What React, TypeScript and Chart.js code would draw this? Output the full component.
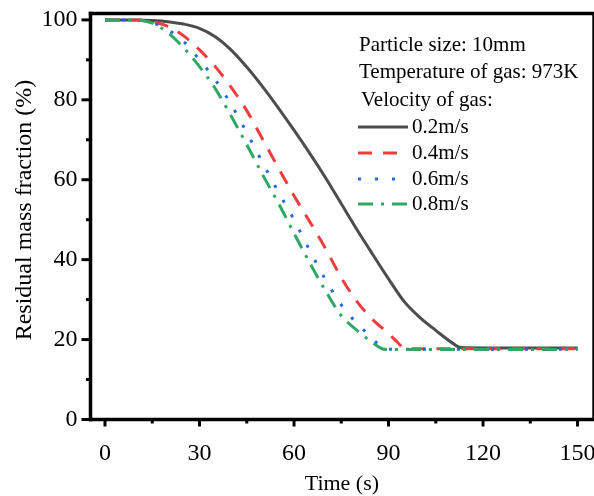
import React, { useEffect, useRef } from "react";
import { Chart, registerables } from "chart.js";

Chart.register(...registerables);

// ---- data ----
const xTicks = [0, 30, 60, 90, 120, 150];
const yTicks = [0, 20, 40, 60, 80, 100];
const xMinorTicks = [15, 45, 75, 105, 135];
const yMinorTicks = [10, 30, 50, 70, 90];

const xTitle = "Time (s)";
const yTitle = "Residual mass fraction (%)";
const infoLines = ["Particle size: 10mm", "Temperature of gas: 973K", "Velocity of gas:"];
const seriesLabels = ["0.2m/s", "0.4m/s", "0.6m/s", "0.8m/s"];

const time02 = [0, 5, 10, 15, 20, 25, 30, 35, 40, 45, 50, 55, 60, 65, 70, 75, 80, 85, 90, 95, 100, 105, 110, 113, 120, 130, 140, 150];
const mass02 = [100, 100, 100, 99.85, 99.55, 98.95, 97.9, 95.8, 92.5, 88.2, 83.3, 78, 72.4, 66.6, 60.5, 54, 47.5, 41.3, 35.2, 29.5, 25.5, 22.3, 19.3, 18, 17.9, 17.9, 17.9, 17.9];

const time04 = [0, 5, 10, 15, 20, 25, 30, 35, 40, 45, 50, 55, 60, 65, 70, 75, 80, 85, 90, 93, 95, 100, 110, 120, 130, 140, 150];
const mass04 = [100, 100, 100, 99.5, 98.4, 96, 92.5, 88.3, 83.2, 77.3, 70.2, 63, 56, 49.5, 42.8, 35.5, 29.5, 25, 21.5, 19.2, 17.8, 17.7, 17.7, 17.7, 17.7, 17.7, 17.7];

const time06 = [0, 5, 10, 15, 20, 25, 30, 35, 40, 45, 50, 55, 60, 65, 70, 75, 80, 85, 88, 90, 100, 110, 120, 130, 140, 150];
const mass06 = [100, 100, 100, 99.3, 97.5, 94.6, 90, 85, 78.9, 71.8, 64.3, 57, 50, 42.3, 35, 28.7, 24, 20.3, 17.8, 17.6, 17.6, 17.6, 17.6, 17.6, 17.6, 17.6];

const time08 = [0, 5, 10, 12, 15, 20, 25, 30, 35, 40, 45, 50, 55, 60, 65, 70, 75, 80, 85, 88, 90, 100, 110, 120, 130, 140, 150];
const mass08 = [100, 100, 100, 99.8, 99.2, 96.8, 93, 88.3, 82.8, 76, 68.8, 61.3, 54.2, 46.6, 39.2, 32.2, 26, 22.3, 19.2, 17.7, 17.5, 17.5, 17.5, 17.5, 17.5, 17.5, 17.5];

const toPoints = (xs: number[], ys: number[]) => xs.map((x, i) => ({ x, y: ys[i] }));

const SERIF = "'Liberation Serif', 'Times New Roman', serif";

const framePlugin = {
  id: "originFrame",
  afterDatasetsDraw(chart: any) {
    const { ctx, chartArea, scales } = chart;
    const { left, right, top, bottom } = chartArea;
    const x = scales.x;
    const y = scales.y;
    ctx.save();
    ctx.strokeStyle = "#000";
    ctx.lineCap = "butt";
    ctx.lineWidth = 3;
    const ln = (x1: number, y1: number, x2: number, y2: number) => {
      ctx.beginPath();
      ctx.moveTo(x1, y1);
      ctx.lineTo(x2, y2);
      ctx.stroke();
    };
    xTicks.forEach((v) => {
      const px = x.getPixelForValue(v);
      ln(px, bottom, px, bottom + 7);
    });
    xMinorTicks.forEach((v) => {
      const px = x.getPixelForValue(v);
      ln(px, bottom, px, bottom + 4);
    });
    yTicks.forEach((v) => {
      const py = y.getPixelForValue(v);
      ln(left - 9, py, left, py);
    });
    yMinorTicks.forEach((v) => {
      const py = y.getPixelForValue(v);
      ln(left - 4.5, py, left, py);
    });
    // frame
    ctx.lineWidth = 3.5;
    ln(left, top - 1.75, left, bottom + 1.75);
    ln(left - 1.75, bottom, right + 1, bottom);
    ln(left - 1.75, top, right + 1, top);
    ctx.lineWidth = 2;
    ln(right, top, right, bottom);
    ctx.restore();
  },
};

const legendPlugin = {
  id: "infoLegend",
  afterDraw(chart: any) {
    const { ctx } = chart;
    ctx.save();
    ctx.fillStyle = "#000";
    // y axis title
    ctx.save();
    ctx.font = `24px ${SERIF}`;
    ctx.textAlign = "center";
    ctx.textBaseline = "middle";
    ctx.translate(25, 210);
    ctx.rotate(-Math.PI / 2);
    ctx.fillText(yTitle, 0, 0);
    ctx.restore();

    ctx.font = `21px ${SERIF}`;
    ctx.textBaseline = "middle";
    ctx.textAlign = "left";
    const rows = [45, 72, 100];
    infoLines.forEach((t, i) => ctx.fillText(t, i === 2 ? 361 : 359, rows[i]));
    const sRows = [127, 153, 179, 204];
    chart.data.datasets.forEach((ds: any, i: number) => {
      const yy = sRows[i];
      ctx.save();
      ctx.strokeStyle = ds.borderColor;
      ctx.lineWidth = ds.borderWidth;
      ctx.lineCap = ds.borderCapStyle || "butt";
      ctx.setLineDash(ds.borderDash || []);
      ctx.beginPath();
      ctx.moveTo(358, yy);
      ctx.lineTo(408, yy);
      ctx.stroke();
      ctx.restore();
      ctx.fillText(ds.label, 412, yy);
    });
    ctx.restore();
  },
};

const zeroPad = (s: any) => {
  s.paddingLeft = 0;
  s.paddingRight = 0;
  s.paddingTop = 0;
  s.paddingBottom = 0;
};

export default function App() {
  const canvasRef = useRef<HTMLCanvasElement | null>(null);

  useEffect(() => {
    if (!canvasRef.current) return;
    const chart = new Chart(canvasRef.current, {
      type: "line",
      data: {
        datasets: [
          {
            label: seriesLabels[0],
            data: toPoints(time02, mass02),
            borderColor: "#4d4d4d",
            borderWidth: 3,
            pointRadius: 0,
            cubicInterpolationMode: "monotone",
            order: 3,
          },
          {
            label: seriesLabels[1],
            data: toPoints(time04, mass04),
            borderColor: "#f03c3f",
            borderWidth: 3,
            borderDash: [14, 11],
            pointRadius: 0,
            cubicInterpolationMode: "monotone",
            order: 2,
          },
          {
            label: seriesLabels[2],
            data: toPoints(time06, mass06),
            borderColor: "#1c6de0",
            borderWidth: 3,
            borderDash: [3, 14],
            pointRadius: 0,
            cubicInterpolationMode: "monotone",
            order: 1,
          },
          {
            label: seriesLabels[3],
            data: toPoints(time08, mass08),
            borderColor: "#2ea862",
            borderWidth: 3,
            borderDash: [15, 8, 3, 8],
            pointRadius: 0,
            cubicInterpolationMode: "monotone",
            order: 0,
          },
        ] as any,
      },
      options: {
        animation: false,
        responsive: true,
        maintainAspectRatio: false,
        layout: { autoPadding: false, padding: { top: 13.5, right: 0.7, left: 0, bottom: 0 } },
        plugins: { legend: { display: false }, tooltip: { enabled: false } },
        scales: {
          x: {
            type: "linear",
            min: -4.6,
            max: 155,
            grid: { display: false, drawTicks: false },
            border: { display: false },
            afterBuildTicks: (s: any) => {
              s.ticks = xTicks.map((v) => ({ value: v }));
            },
            afterFit: (s: any) => {
              s.height = 76.5;
              zeroPad(s);
            },
            ticks: {
              color: "#000",
              font: { family: SERIF, size: 24 },
              padding: 20,
              maxRotation: 0,
              autoSkip: false,
            },
            title: {
              display: true,
              text: xTitle,
              color: "#000",
              font: { family: SERIF, size: 22, lineHeight: 1 },
              padding: { top: 0, bottom: 1 },
            },
          },
          y: {
            type: "linear",
            min: 0,
            max: 101.6,
            grid: { display: false, drawTicks: false },
            border: { display: false },
            afterBuildTicks: (s: any) => {
              s.ticks = yTicks.map((v) => ({ value: v }));
            },
            afterFit: (s: any) => {
              s.width = 90.5;
              zeroPad(s);
            },
            ticks: {
              color: "#000",
              font: { family: SERIF, size: 24 },
              padding: 13,
              autoSkip: false,
            },
            title: { display: false },
          },
        },
      } as any,
      plugins: [framePlugin, legendPlugin],
    });
    return () => chart.destroy();
  }, []);

  return (
    <div style={{ position: "absolute", left: 0, top: 0, width: 594, height: 496, background: "#fff" }}>
      <canvas ref={canvasRef} />
    </div>
  );
}
